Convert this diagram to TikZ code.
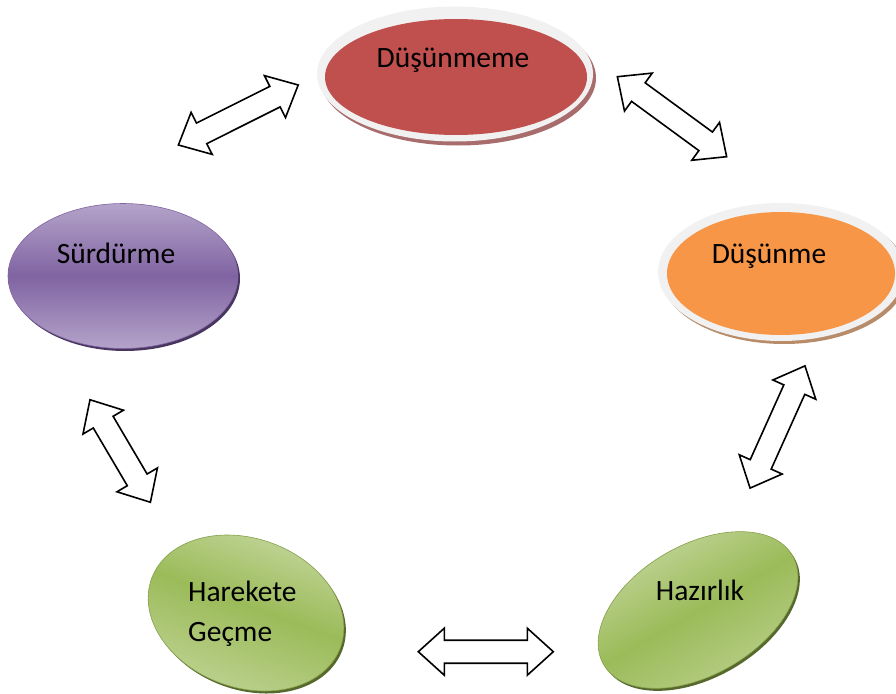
\documentclass[tikz,border=0pt]{standalone}
\usepackage{fontspec}
\setmainfont{Carlito}
\usepackage{tikz}
\usetikzlibrary{shapes.geometric}
\definecolor{redfill}{RGB}{192,80,77}
\definecolor{redshadow}{RGB}{168,108,108}
\definecolor{orangefill}{RGB}{247,150,70}
\definecolor{orangeshadow}{RGB}{185,140,105}
\definecolor{rimgray}{RGB}{241,241,241}
\definecolor{purplelight}{RGB}{180,163,201}
\definecolor{purpledark}{RGB}{128,100,162}
\definecolor{purpleedge}{RGB}{72,54,96}
\definecolor{greenlight}{RGB}{198,216,160}
\definecolor{greendark}{RGB}{155,187,89}
\definecolor{greenedge}{RGB}{86,104,44}

\tikzset{dblarr/.pic={
  \draw [line width=1.6pt,fill=white,line join=miter]
    (-#1,0) -- (-#1+26,-23.5) -- (-#1+26,-11.5) -- (#1-26,-11.5) -- (#1-26,-23.5)
    -- (#1,0) -- (#1-26,23.5) -- (#1-26,11.5) -- (-#1+26,11.5) -- (-#1+26,23.5) -- cycle;
}}

\begin{document}
\begin{tikzpicture} [x=1pt,y=-1pt,
    oval/.style={ellipse,inner sep=0pt},
    purpleoval/.style={oval,top color=purplelight,bottom color=purplelight,middle color=purpledark,draw=purpledark,line width=0.6pt},
    greenoval/.style={oval,top color=greenlight,bottom color=greenlight!75!greendark,middle color=greendark,draw=greendark!85!black,line width=0.6pt},
    lbl/.style={anchor=base,inner sep=0pt,font=\fontsize{29.5}{40}\selectfont}]
  \useasboundingbox (0,0) rectangle (896,693);

  \node [oval,fill=redshadow,minimum width=276pt,minimum height=135pt] (dm-s) at (458,78) {};
  \node [oval,fill=rimgray,minimum width=276pt,minimum height=135pt] (dm-r) at (455,74) {};
  \node [oval,fill=redfill,minimum width=262pt,minimum height=116pt] (dm) at (456,77) {};
  \node [lbl] (dm-t) at (453,67) {Düşünmeme};

  \node [oval,fill=orangeshadow,minimum width=246pt,minimum height=138pt] (du-s) at (784,275) {};
  \node [oval,fill=rimgray,minimum width=246pt,minimum height=138pt] (du-r) at (781,272) {};
  \node [oval,fill=orangefill,minimum width=228pt,minimum height=123pt] (du) at (781,273.5) {};
  \node [lbl] (du-t) at (769,263) {Düşünme};

  \node [oval,fill=purpleedge,minimum width=230pt,minimum height=145pt] (su-s) at (125,278.5) {};
  \node [purpleoval,minimum width=230pt,minimum height=145pt] (su) at (123,276) {};
  \node [lbl] (su-t) at (116,263) {Sürdürme};

  \node [oval,fill=greenedge,rotate=30,minimum width=218pt,minimum height=130pt] (hz-s) at (700,612.5) {};
  \node [greenoval,rotate=30,shading angle=30,minimum width=218pt,minimum height=130pt] (hz) at (698,610) {};
  \node [lbl] (hz-t) at (700,600) {Hazırlık};

  \node [oval,fill=greenedge,rotate=-20,minimum width=201pt,minimum height=149pt] (hg-s) at (248,615.5) {};
  \node [greenoval,rotate=-20,shading angle=-20,minimum width=201pt,minimum height=149pt] (hg) at (246,613) {};
  \node [lbl,anchor=base west,align=left] (hg-t) at (188,641) {Harekete\\Geçme};

  \pic [rotate=26.6] at (238.3,115) {dblarr=67};
  \pic [rotate=-36.2] at (672,116.7) {dblarr=67.7};
  \pic [rotate=65.8] at (777.5,427) {dblarr=67};
  \pic at (485.8,651.7) {dblarr=67.5};
  \pic [rotate=-59.5] at (120.2,451) {dblarr=59.5};
\end{tikzpicture}
\end{document}
